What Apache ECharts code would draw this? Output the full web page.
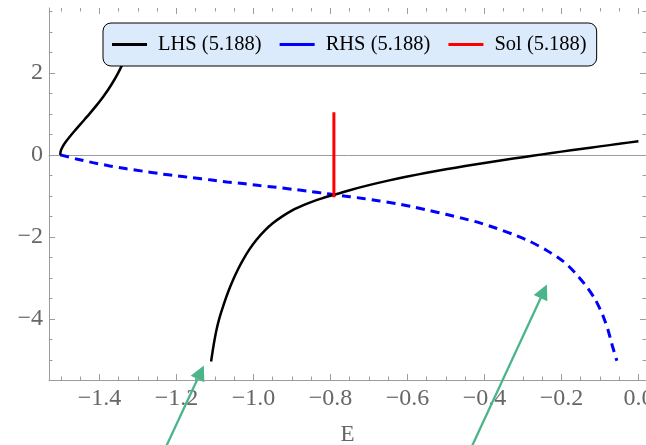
<!DOCTYPE html>
<html>
<head>
<meta charset="utf-8">
<script src="https://cdn.jsdelivr.net/npm/echarts@6/dist/echarts.min.js"></script>
<style>
  html, body { margin: 0; padding: 0; background: #ffffff; }
  #chart { width: 646px; height: 445px; }
</style>
</head>
<body>
<div id="chart"></div>
<script>
// Left-hand side, upper branch (E, value)
const lhsUpperE = [-1.5020, -1.5003, -1.4955, -1.4888, -1.4808, -1.4631, -1.4445, -1.4259, -1.4081, -1.3916, -1.3766, -1.3632, -1.3513, -1.3406, -1.3308, -1.3173];
const lhsUpperV = [0.00, 0.10, 0.20, 0.30, 0.40, 0.60, 0.80, 1.00, 1.20, 1.40, 1.60, 1.80, 2.00, 2.20, 2.40, 2.70];

// Left-hand side, lower branch
const lhsLowerE = [-1.110, -1.103, -1.096, -1.088, -1.079, -1.066, -1.053, -1.040, -1.027, -1.010, -0.992, -0.972, -0.950, -0.925, -0.897, -0.870, -0.845, -0.820, -0.800, -0.750, -0.700, -0.650, -0.600, -0.550, -0.500, -0.450, -0.400, -0.350, -0.300, -0.250, -0.200, -0.150, -0.100, -0.050, 0.000];
const lhsLowerV = [-5.04, -4.62, -4.27, -3.97, -3.70, -3.35, -3.05, -2.79, -2.56, -2.30, -2.07, -1.86, -1.67, -1.50, -1.34, -1.224, -1.134, -1.056, -0.999, -0.862, -0.739, -0.629, -0.529, -0.438, -0.353, -0.273, -0.198, -0.127, -0.057, 0.011, 0.078, 0.143, 0.206, 0.268, 0.333];

// Right-hand side
const rhsE = [-1.502, -1.460, -1.417, -1.373, -1.329, -1.286, -1.243, -1.200, -1.158, -1.113, -1.069, -1.027, -0.984, -0.941, -0.898, -0.854, -0.810, -0.791, -0.750, -0.715, -0.672, -0.629, -0.585, -0.542, -0.500, -0.456, -0.412, -0.369, -0.325, -0.282, -0.240, -0.196, -0.165, -0.134, -0.112, -0.093, -0.079, -0.067, -0.056];
const rhsV = [0.00, -0.10, -0.19, -0.27, -0.34, -0.40, -0.46, -0.51, -0.56, -0.61, -0.66, -0.70, -0.75, -0.79, -0.84, -0.89, -0.945, -0.97, -1.02, -1.065, -1.125, -1.19, -1.27, -1.36, -1.45, -1.55, -1.66, -1.79, -1.94, -2.11, -2.32, -2.59, -2.87, -3.22, -3.53, -3.90, -4.27, -4.68, -5.02];

// Solution marker: vertical segment at the root
const solE = [-0.791, -0.791];
const solV = [-1.0, 1.0];

// Annotation arrows: tail -> head (E, value)
const arrowTailE = [-1.243, -0.449];
const arrowTailV = [-7.44, -7.44];
const arrowHeadE = [-1.137, -0.246];
const arrowHeadV = [-5.30, -3.33];

const seriesNames = ['LHS (5.188)', 'RHS (5.188)', 'Sol (5.188)'];
const xMajorTicks = [-1.4, -1.2, -1.0, -0.8, -0.6, -0.4, -0.2, 0.0];
const yMajorTicks = [-4, -2, 0, 2];
const xRange = [-1.531, 0.0197];
const yRange = [-5.49, 3.58];

// minor tick positions between the labelled ones
const xMinorTicks = [];
for (let i = -30; i <= 0; i++) if (i % 4 !== 0) xMinorTicks.push(+(i * 0.05).toFixed(2));
const yMinorTicks = [];
for (let i = -10; i <= 7; i++) if (i % 4 !== 0) yMinorTicks.push(i * 0.5);

const FONT = '"Liberation Serif", "Times New Roman", serif';
const FRAME = '#9c9c9c';
const LABEL = '#666666';
const GREEN = '#4bb589';

const zip = (xs, ys) => xs.map((x, i) => [x, ys[i]]);
const signed = (v, d) => (v < 0 ? '\u2212' : '') + Math.abs(v).toFixed(d);

function xAxisDef(position, ticks, len, withLabels) {
  return {
    type: 'value', gridIndex: 0, position: position,
    min: xRange[0], max: xRange[1],
    axisLine: { show: withLabels, onZero: false, lineStyle: { color: FRAME, width: 1 } },
    axisTick: { show: true, inside: true, length: len, customValues: ticks, lineStyle: { color: FRAME, width: 1 } },
    axisLabel: withLabels ? {
      show: true, customValues: ticks, margin: 7,
      formatter: v => signed(v, 1),
      fontFamily: FONT, fontSize: 24, color: LABEL
    } : { show: false },
    splitLine: { show: false },
    name: withLabels ? 'E' : '',
    nameLocation: 'middle', nameGap: 43,
    nameTextStyle: { fontFamily: FONT, fontSize: 23, color: LABEL }
  };
}

function yAxisDef(position, ticks, len, withLabels) {
  return {
    type: 'value', gridIndex: 0, position: position,
    min: yRange[0], max: yRange[1],
    axisLine: { show: withLabels, onZero: false, lineStyle: { color: FRAME, width: 1 } },
    axisTick: { show: true, inside: true, length: len, customValues: ticks, lineStyle: { color: FRAME, width: 1 } },
    axisLabel: withLabels ? {
      show: true, customValues: ticks, margin: 6,
      formatter: v => signed(v, 0),
      fontFamily: FONT, fontSize: 24, color: LABEL
    } : { show: false },
    splitLine: { show: false }
  };
}

// horizontal axis through value 0
const zeroAxis = {
  type: 'value', gridIndex: 0, position: 'bottom',
  min: xRange[0], max: xRange[1],
  axisLine: { show: true, onZero: true, onZeroAxisIndex: 0, lineStyle: { color: FRAME, width: 1 } },
  axisTick: { show: false }, axisLabel: { show: false }, splitLine: { show: false }
};

const chart = echarts.init(document.getElementById('chart'), null, { renderer: 'canvas' });

chart.setOption({
  animation: false,
  backgroundColor: '#ffffff',
  grid: { left: 49, right: 0, top: 8, bottom: 65, containLabel: false, outerBoundsMode: 'none' },
  xAxis: [
    xAxisDef('bottom', xMajorTicks, 6, true),
    xAxisDef('bottom', xMinorTicks, 3.5, false),
    xAxisDef('top', xMajorTicks, 6, false),
    xAxisDef('top', xMinorTicks, 3.5, false),
    zeroAxis
  ],
  yAxis: [
    yAxisDef('left', yMajorTicks, 6, true),
    yAxisDef('left', yMinorTicks, 3.5, false),
    yAxisDef('right', yMajorTicks, 6, false),
    yAxisDef('right', yMinorTicks, 3.5, false)
  ],
  legend: {
    data: seriesNames,
    left: 103, top: 23,
    padding: [11, 10, 11, 9],
    backgroundColor: '#dcebfb',
    borderColor: '#000000', borderWidth: 1, borderRadius: 8,
    icon: 'rect', itemWidth: 35, itemHeight: 3, itemGap: 18,
    itemStyle: { borderWidth: 0 },
    textStyle: { fontFamily: FONT, fontSize: 20.5, color: '#000000', padding: [0, 0, 0, 6] },
    selectedMode: false
  },
  series: [
    {
      name: seriesNames[0], type: 'line', xAxisIndex: 0, yAxisIndex: 0,
      data: zip(lhsUpperE, lhsUpperV), showSymbol: false, smooth: 0.25,
      itemStyle: { color: '#000000' }, lineStyle: { color: '#000000', width: 2.5 }, z: 3
    },
    {
      name: seriesNames[0], type: 'line', xAxisIndex: 0, yAxisIndex: 0,
      data: zip(lhsLowerE, lhsLowerV), showSymbol: false, smooth: 0.25,
      itemStyle: { color: '#000000' }, lineStyle: { color: '#000000', width: 2.5 }, z: 3
    },
    {
      name: seriesNames[1], type: 'line', xAxisIndex: 0, yAxisIndex: 0,
      data: zip(rhsE, rhsV), showSymbol: false, smooth: 0.25,
      itemStyle: { color: '#0000ff' }, lineStyle: { color: '#0000ff', width: 3, type: [9, 6] }, z: 2
    },
    {
      name: seriesNames[2], type: 'line', xAxisIndex: 0, yAxisIndex: 0,
      data: zip(solE, solV), showSymbol: false,
      itemStyle: { color: '#ff0000' }, lineStyle: { color: '#ff0000', width: 3, cap: 'square' }, z: 4
    },
    {
      type: 'lines', coordinateSystem: 'cartesian2d', xAxisIndex: 0, yAxisIndex: 0,
      clip: false, silent: true, z: 6,
      symbol: ['none', 'triangle'], symbolSize: [14, 15],
      lineStyle: { color: GREEN, width: 2.3, opacity: 1, curveness: 0 },
      itemStyle: { color: GREEN },
      data: arrowTailE.map((e, i) => ({ coords: [[e, arrowTailV[i]], [arrowHeadE[i], arrowHeadV[i]]] }))
    }
  ]
});
</script>
</body>
</html>
